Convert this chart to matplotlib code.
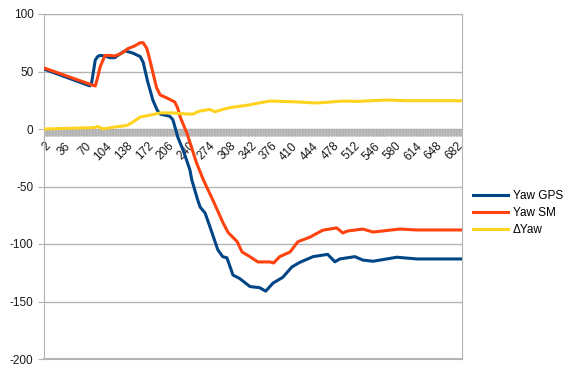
import numpy as np
import matplotlib.pyplot as plt

plt.rcParams['font.family'] = ['Liberation Sans', 'DejaVu Sans']
plt.rcParams['axes.unicode_minus'] = False

# values (sample index, degrees)
gps_x = [2, 77, 80, 86, 90, 94, 102, 110, 118, 126, 135, 148, 160, 165, 172, 181, 188, 193,
         209, 214, 222, 232, 242, 245, 255, 259, 267, 275, 288, 296, 303, 313, 324, 341,
         357, 367, 379, 395, 410, 423, 445, 469, 481, 489, 514, 527, 544, 583, 616, 690]
gps_y = [52, 37.5, 40, 60, 63, 64, 63.5, 62, 62, 65, 68, 66, 63, 58, 42, 25, 16.5, 13,
         11, 8, -7, -20, -35.6, -44, -62, -68, -73, -85, -105, -111, -112, -127, -130, -137,
         -138, -141, -134, -129, -120, -116, -111, -109, -115.5, -113, -111, -114, -115, -111.5, -113, -113]

sm_x = [2, 77, 86, 90, 94, 102, 110, 118, 130, 140, 150, 160, 165, 171, 176, 181, 187, 193,
        204, 217, 222, 226, 237, 253, 264, 280, 297, 305, 320, 328, 341, 354, 374, 380, 390,
        407, 420, 440, 461, 484, 494, 502, 527, 544, 588, 616, 690]
sm_y = [53, 39, 37.4, 45, 54, 64, 64, 63.5, 66, 70, 72, 75, 75, 70, 60, 49, 36, 29.6,
        27, 23.5, 18, 10.4, -3.5, -29.6, -44, -62, -82, -90, -98, -107, -111, -115.6, -115.6, -116.5, -111,
        -107, -98, -94, -88, -86, -90.4, -88.7, -87, -89.6, -87, -87.8, -87.8]

dyaw_x = [2, 85, 90, 99, 115, 138, 148, 160, 176, 193, 214, 237, 247, 258, 275,
          283, 303, 313, 341, 346, 374, 412, 451, 494, 517, 567, 600, 690]
dyaw_y = [0, 1.2, 2.2, 0, 1.5, 3, 6, 10.4, 12, 14, 14, 13, 13, 15.6, 17,
          15, 18, 19, 21, 21.7, 24.3, 23.7, 22.6, 24.3, 24, 25.2, 24.6, 24.6]

x_labels = list(range(2, 683, 34))
y_ticks = [100, 50, 0, -50, -100, -150, -200]

grey = '#b3b3b3'

fig = plt.figure(figsize=(5.74, 3.72), dpi=100)
ax = fig.add_axes([44 / 574, 13 / 372, 418 / 574, 345 / 372])

ax.plot(gps_x, gps_y, color='#004586', lw=2.2, label='Yaw GPS', zorder=3)
ax.plot(sm_x, sm_y, color='#ff420e', lw=2.2, label='Yaw SM', zorder=3)
ax.plot(dyaw_x, dyaw_y, color='#ffd320', lw=2.2, label='ΔYaw', zorder=3)

ax.set_xlim(1.5, 690.5)
ax.set_ylim(-200, 100)
ax.set_yticks(y_ticks)
ax.grid(axis='y', color=grey, lw=1)
ax.set_axisbelow(True)

for s in ['left', 'right', 'top']:
    ax.spines[s].set_color(grey)
ax.spines['bottom'].set_position(('data', 0))
ax.spines['bottom'].set_color(grey)
ax.axhline(-200, color=grey, lw=1.5, clip_on=False)

ax.set_xticks(x_labels)
ax.set_xticklabels([str(v) for v in x_labels], rotation=45, ha='right',
                   va='top', rotation_mode='anchor', fontsize=8.5, color='#1a1a1a')
ax.set_xticks(np.arange(2, 691), minor=True)
ax.tick_params(axis='x', which='both', length=5, width=0.6, color=grey, pad=3)
ax.tick_params(axis='y', length=4, color=grey, labelsize=8.5, labelcolor='#1a1a1a')

ax.legend(loc='center left', bbox_to_anchor=(468 / 574, (372 - 213) / 372),
          bbox_transform=fig.transFigure, frameon=False, fontsize=8.5,
          handlelength=3.0, handletextpad=0.4, labelspacing=0.45, borderaxespad=0)

fig.savefig('out.png', dpi=100)
